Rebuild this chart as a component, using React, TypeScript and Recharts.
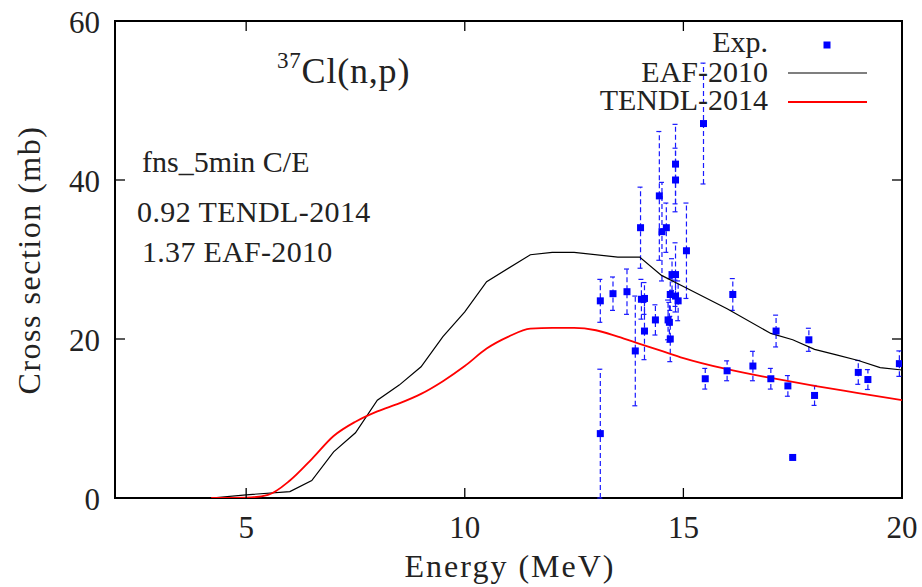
import React from 'react';
import { ComposedChart, Line, Scatter, ErrorBar, XAxis, YAxis, ReferenceArea } from 'recharts';

// ---- data ----
const eafE = [4.2, 5.0, 6.0, 6.5, 7.0, 7.5, 8.0, 8.5, 9.0, 9.5, 10.0, 10.5, 11.5, 12.0, 12.5, 13.5, 14.0, 14.5, 15.0, 16.0, 17.0, 17.5, 18.0, 18.5, 19.0, 19.5, 20.0];
const eafXS = [0, 0.4, 0.8, 2.2, 5.8, 8.2, 12.3, 14.2, 16.5, 20.3, 23.4, 27.2, 30.6, 30.9, 30.9, 30.3, 30.3, 28.0, 26.6, 23.8, 20.7, 19.9, 18.7, 18.0, 17.3, 16.4, 16.1];

const tendlE = [4.2, 5.0, 5.5, 6.0, 6.5, 7.0, 7.5, 8.0, 8.5, 9.0, 9.5, 10.0, 10.5, 11.0, 11.5, 12.0, 12.5, 13.0, 13.5, 14.0, 14.5, 15.0, 16.0, 17.0, 18.0, 19.0, 20.0];
const tendlXS = [0, 0.05, 0.4, 2.2, 4.9, 7.8, 9.6, 10.9, 11.9, 13.1, 14.7, 16.6, 18.8, 20.3, 21.3, 21.4, 21.4, 21.1, 20.3, 19.4, 18.5, 17.6, 16.2, 15.1, 14.1, 13.2, 12.3];

const expE = [13.10, 13.10, 13.39, 13.71, 13.90, 14.02, 14.04, 14.11, 14.11, 14.36, 14.45, 14.51, 14.61, 14.65, 14.68, 14.70, 14.70, 14.74, 14.82, 14.82, 14.82, 14.82, 14.88, 15.07, 15.46, 15.50, 16.00, 16.13, 16.59, 17.00, 17.12, 17.39, 17.50, 17.87, 18.00, 19.00, 19.22, 19.94];
const expXS = [24.8, 8.1, 25.7, 25.95, 18.5, 34.0, 25.0, 25.1, 21.0, 22.4, 38.0, 33.5, 34.0, 22.4, 22.1, 20.0, 25.6, 28.1, 28.1, 42.0, 40.0, 25.4, 24.8, 31.1, 47.1, 15.0, 16.0, 25.6, 16.6, 15.0, 21.0, 14.1, 5.1, 19.9, 12.9, 15.8, 14.9, 16.9];
const expErr = [2.7, 8.1, 2.1, 2.85, 6.9, 5.1, 2.5, 2.0, 3.6, 1.9, 8.1, 6.2, 3.1, 2.5, 2.5, 2.85, 2.0, 2.0, 4.0, 5.0, 4.0, 2.0, 2.5, 6.0, 7.6, 1.3, 1.25, 2.0, 1.85, 1.3, 2.0, 1.3, 0.1, 1.45, 1.25, 1.5, 1.25, 1.6];

const xTicks = [5, 10, 15, 20];
const yTicks = [0, 20, 40, 60];

const eafData = eafE.map((E, i) => ({ E, v: eafXS[i] }));
const tendlData = tendlE.map((E, i) => ({ E, v: tendlXS[i] }));
const expData = expE.map((E, i) => ({ E, v: expXS[i], err: expErr[i] }));

// ---- layout ----
const W = 922;
const H = 587;
const PLOT_TOP = 21;
const PLOT_RIGHT = 902;
const FONT = 'Liberation Serif, DejaVu Serif, serif';
const TXT = '#222';
const TICK_LEN = 10;
const fontStyle = { fontFamily: FONT };

const XTick = (props: any) => {
  const { x, y, payload } = props;
  return (
    <g>
      <line x1={x} x2={x} y1={y} y2={y - TICK_LEN} stroke="#000" strokeWidth={1.3} />
      <line x1={x} x2={x} y1={PLOT_TOP} y2={PLOT_TOP + TICK_LEN} stroke="#000" strokeWidth={1.3} />
      <text x={x} y={y + 40} textAnchor="middle" style={fontStyle} fontSize={31} fill={TXT}>
        {payload.value}
      </text>
    </g>
  );
};

const YTick = (props: any) => {
  const { x, y, payload } = props;
  return (
    <g>
      <line x1={x} x2={x + TICK_LEN} y1={y} y2={y} stroke="#000" strokeWidth={1.3} />
      <line x1={PLOT_RIGHT} x2={PLOT_RIGHT - TICK_LEN} y1={y} y2={y} stroke="#000" strokeWidth={1.3} />
      <text x={x - 15} y={y + 12} textAnchor="end" style={fontStyle} fontSize={31} fill={TXT}>
        {payload.value}
      </text>
    </g>
  );
};

const Square = (props: any) => {
  const { cx, cy } = props;
  return <rect x={cx - 3.5} y={cy - 3.5} width={7} height={7} fill="#0000ff" />;
};

export default function App() {
  return (
    <div style={{ position: 'absolute', left: 0, top: 0, width: W, height: H, background: '#fff' }}>
      <ComposedChart
        width={W}
        height={H}
        margin={{ top: PLOT_TOP, right: W - PLOT_RIGHT, left: 15, bottom: 59 }}
      >
        <XAxis
          type="number"
          dataKey="E"
          domain={[2, 20]}
          ticks={xTicks}
          interval={0}
          allowDataOverflow
          height={30}
          tickSize={0}
          tickMargin={0}
          axisLine={false}
          tickLine={false}
          tick={<XTick />}
        />
        <YAxis
          type="number"
          dataKey="v"
          domain={[0, 60]}
          ticks={yTicks}
          interval={0}
          allowDataOverflow
          width={100}
          tickSize={0}
          tickMargin={0}
          axisLine={false}
          tickLine={false}
          tick={<YTick />}
        />
        <Scatter data={expData} dataKey="v" fill="#0000ff" shape={<Square />} isAnimationActive={false}>
          <ErrorBar
            dataKey="err"
            direction="y"
            width={3}
            stroke="#1a1aff"
            strokeWidth={1.2}
            strokeDasharray="5 3"
            isAnimationActive={false}
          />
        </Scatter>
        <Line data={eafData} dataKey="v" type="linear" stroke="#000" strokeWidth={1.2} dot={false} activeDot={false} isAnimationActive={false} />
        <Line data={tendlData} dataKey="v" type="monotone" stroke="#ff0000" strokeWidth={1.8} dot={false} activeDot={false} isAnimationActive={false} />
        <ReferenceArea x1={2} x2={20} y1={0} y2={60} fill="none" stroke="#000" strokeWidth={2} ifOverflow="visible" />
      </ComposedChart>
      <svg
        width={W}
        height={H}
        style={{ position: 'absolute', left: 0, top: 0, pointerEvents: 'none' }}
      >
        <g style={fontStyle} fill={TXT}>
          {/* axis labels */}
          <text transform="rotate(-90)" x={-260} y={40} textAnchor="middle" fontSize={32} letterSpacing={1.5}>
            Cross section (mb)
          </text>
          <text x={510} y={577} textAnchor="middle" fontSize={32} letterSpacing={2}>
            Energy (MeV)
          </text>
          {/* title */}
          <text x={277} y={83} fontSize={36} letterSpacing={0.8}>
            <tspan fontSize={23} dy={-15}>37</tspan>
            <tspan dy={15}>Cl(n,p)</tspan>
          </text>
          {/* annotations */}
          <text x={142} y={172} fontSize={30}>fns_5min C/E</text>
          <text x={137} y={222} fontSize={30} letterSpacing={0.4}>0.92 TENDL-2014</text>
          <text x={142} y={262} fontSize={30} letterSpacing={0.3}>1.37 EAF-2010</text>
          {/* legend */}
          <text x={768} y={52} fontSize={30} textAnchor="end">Exp.</text>
          <text x={768} y={82} fontSize={30} textAnchor="end">EAF-2010</text>
          <text x={768} y={110} fontSize={30} textAnchor="end">TENDL-2014</text>
        </g>
        <rect x={823.5} y={41.5} width={7} height={7} fill="#0000ff" />
        <line x1={788} x2={867} y1={73} y2={73} stroke="#000" strokeWidth={1.2} />
        <line x1={788} x2={867} y1={102} y2={102} stroke="#ff0000" strokeWidth={1.8} />
      </svg>
    </div>
  );
}
